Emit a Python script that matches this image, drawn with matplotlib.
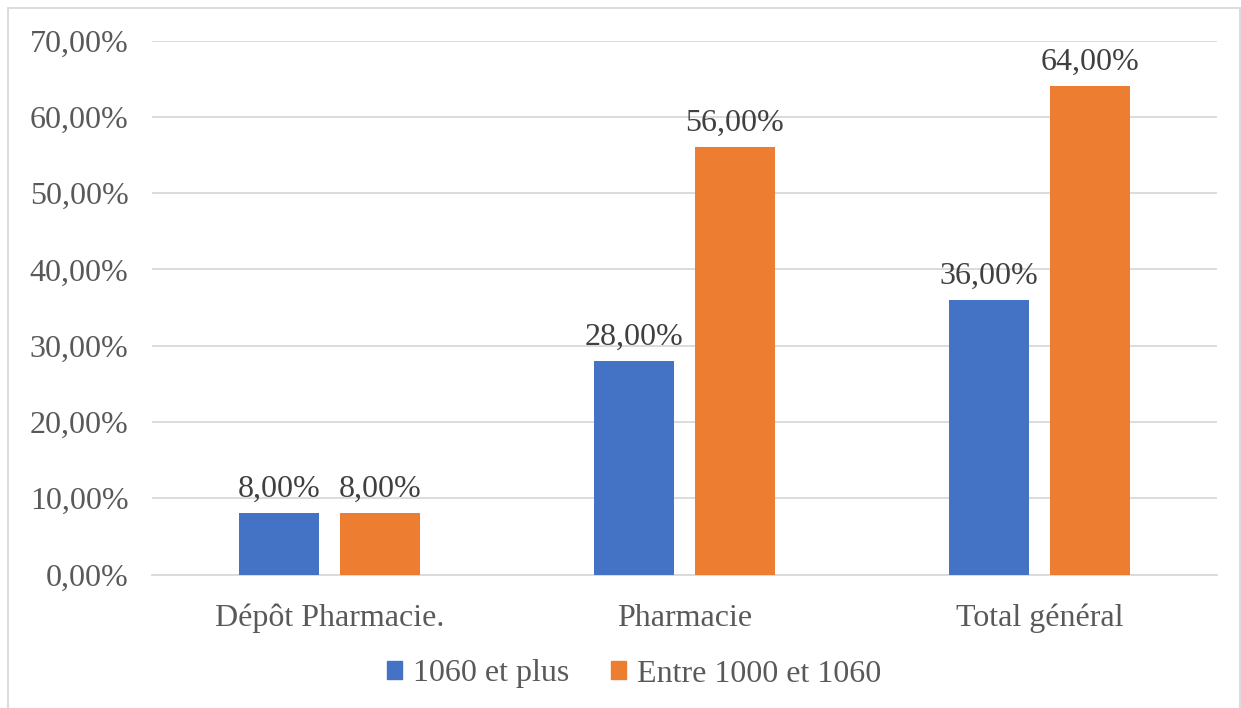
import matplotlib
matplotlib.use("Agg")
import matplotlib.pyplot as plt
from matplotlib.patches import Rectangle, Patch
import numpy as np

categories = ["Dépôt Pharmacie.", "Pharmacie", "Total général"]
series_names = ["1060 et plus", "Entre 1000 et 1060"]
values_1060_plus = [8.0, 28.0, 36.0]
values_1000_1060 = [8.0, 56.0, 64.0]
y_ticks = [0, 10, 20, 30, 40, 50, 60, 70]

colors = ["#4472C4", "#ED7D31"]
plt.rcParams["font.family"] = ["Liberation Serif", "DejaVu Serif"]

def pct(v):
    return f"{v:.2f}".replace(".", ",") + "%"

fig = plt.figure(figsize=(12.41, 7.08), dpi=100)
fig.patches.append(Rectangle((8 / 1241, -0.01), (1240 - 8) / 1241, 1 - 8 / 708 + 0.01,
                             transform=fig.transFigure, fill=False,
                             edgecolor="#d9d9d9", linewidth=1.3))
ax = fig.add_axes([152 / 1241, 1 - 574.5 / 708, (1217 - 152) / 1241, (574.5 - 40.5) / 708])

x = np.arange(len(categories))
w = 0.225
off = 0.142
for vals, name, c, dx in [(values_1060_plus, series_names[0], colors[0], -off),
                          (values_1000_1060, series_names[1], colors[1], off)]:
    bars = ax.bar(x + dx, vals, width=w, color=c, label=name, zorder=3)
    for b, v in zip(bars, vals):
        ax.text(b.get_x() + b.get_width() / 2, v + 1.2, pct(v), ha="center", va="bottom",
                fontsize=23, color="#404040")

ax.set_xlim(-0.5, 2.5)
ax.set_ylim(0, 70)
ax.set_yticks(y_ticks)
ax.set_yticklabels([pct(t) for t in y_ticks])
ax.set_xticks(x)
ax.set_xticklabels(categories)
ax.tick_params(axis="both", length=0, labelsize=23, colors="#595959")
ax.tick_params(axis="y", pad=17)
ax.tick_params(axis="x", pad=21)
ax.grid(axis="y", color="#d9d9d9", linewidth=1.3, zorder=0)
for s in ["top", "right", "left"]:
    ax.spines[s].set_visible(False)
ax.spines["bottom"].set_color("#d9d9d9")
ax.spines["bottom"].set_linewidth(1.3)

handles = [Patch(color=c) for c in colors]
fig.legend(handles, series_names, loc="center", bbox_to_anchor=(634 / 1241, 1 - 674 / 708),
           ncol=2, frameon=False, fontsize=23, labelcolor="#595959",
           handlelength=0.47, handleheight=0.47, handletextpad=0.35, columnspacing=1.3)

fig.savefig("out.png", dpi=100)
